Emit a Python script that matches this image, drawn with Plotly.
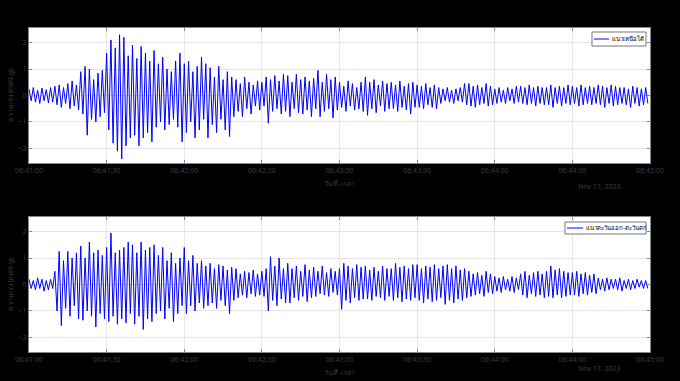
import plotly.graph_objects as go
import pandas as pd

# ---- data (milli-g) ----
START = "2023-11-17 06:41:00"
END = "2023-11-17 06:45:00"
STEP_S = 10 / 12  # seconds between successive extremes

NS_PEAKS = [
    0.25, 0.3, 0.2, 0.28, 0.22, 0.3,
    0.35, 0.4, 0.3, 0.45, 0.55, 0.4,
    0.9, 1.1, 1.0, 0.6, 0.85, 0.95,
    1.6, 2.1, 1.8, 2.3, 2.2, 1.5,
    1.9, 1.4, 1.85, 1.6, 1.3, 1.7,
    1.2, 1.45, 1.0, 0.9, 1.3, 1.6,
    1.2, 1.3, 0.9, 1.1, 1.45, 1.2,
    1.05, 0.7, 1.1, 0.6, 0.9, 0.7,
    0.6, 0.45, 0.7, 0.5, 0.4, 0.55,
    0.5, 0.7, 0.6, 0.75, 0.55, 0.8,
    0.75, 0.5, 0.8, 0.6, 0.7, 0.55,
    0.65, 0.95, 0.5, 0.8, 0.6, 0.7,
    0.5, 0.35, 0.55, 0.45, 0.3, 0.5,
    0.7, 0.5, 0.6, 0.4, 0.55, 0.45,
    0.5, 0.4, 0.55, 0.35, 0.45, 0.5,
    0.4, 0.35, 0.45, 0.3, 0.4, 0.3,
    0.25, 0.3, 0.2, 0.25, 0.3, 0.45,
    0.45, 0.35, 0.4, 0.3, 0.45, 0.35,
    0.25, 0.3, 0.2, 0.3, 0.25, 0.35,
    0.35, 0.3, 0.4, 0.3, 0.35, 0.3,
    0.3, 0.4, 0.3, 0.35, 0.3, 0.4,
    0.35, 0.3, 0.4, 0.3, 0.35, 0.3,
    0.4, 0.35, 0.3, 0.4, 0.35, 0.3,
    0.3, 0.25, 0.35, 0.3, 0.25, 0.3,
]
NS_TROUGHS = [
    -0.2, -0.25, -0.3, -0.2, -0.28, -0.25,
    -0.35, -0.45, -0.3, -0.5, -0.4, -0.55,
    -0.7, -1.5, -0.9, -1.0, -0.8, -0.65,
    -1.3, -1.8, -2.1, -2.4, -1.9, -1.6,
    -1.5, -1.9, -1.6, -1.4, -1.75, -1.2,
    -1.0, -1.3, -1.1, -0.9, -1.2, -1.75,
    -1.4, -1.0, -1.6, -1.3, -0.9, -1.6,
    -1.1, -1.4, -0.9, -1.3, -1.55, -0.8,
    -0.6, -0.8, -0.5, -0.7, -0.4, -0.55,
    -0.4, -1.05, -0.6, -0.5, -0.7, -0.6,
    -0.8, -0.5, -0.65, -0.7, -0.55, -0.8,
    -0.5, -0.8, -0.6, -0.5, -0.85, -0.55,
    -0.45, -0.6, -0.4, -0.55, -0.5, -0.6,
    -0.75, -0.5, -0.65, -0.4, -0.6, -0.5,
    -0.5, -0.6, -0.45, -0.55, -0.7, -0.45,
    -0.45, -0.5, -0.35, -0.45, -0.5, -0.3,
    -0.2, -0.25, -0.3, -0.2, -0.25, -0.35,
    -0.4, -0.45, -0.35, -0.3, -0.4, -0.35,
    -0.3, -0.25, -0.3, -0.2, -0.3, -0.25,
    -0.3, -0.35, -0.3, -0.4, -0.3, -0.35,
    -0.35, -0.45, -0.3, -0.4, -0.3, -0.35,
    -0.3, -0.4, -0.35, -0.3, -0.35, -0.3,
    -0.35, -0.45, -0.3, -0.4, -0.35, -0.3,
    -0.35, -0.45, -0.3, -0.4, -0.35, -0.3,
]
EW_PEAKS = [
    0.2, 0.15, 0.25, 0.2, 0.15, 0.2,
    0.5, 1.25, 0.9, 1.25, 1.0, 1.2,
    1.45, 1.0, 1.6, 1.2, 1.3, 1.1,
    1.4, 1.95, 1.2, 1.3, 1.4, 1.6,
    1.5, 1.2, 1.6, 1.3, 1.4, 1.5,
    1.1, 1.4, 0.9, 1.2, 0.8, 1.0,
    1.4, 0.9, 1.1, 0.8, 0.9, 0.7,
    0.8, 0.6, 0.75, 0.7, 0.55, 0.65,
    0.6, 0.4, 0.5, 0.45, 0.55, 0.4,
    0.5, 0.6, 1.05, 0.7, 1.0, 0.6,
    0.8, 0.6, 0.7, 0.5, 0.75, 0.55,
    0.65, 0.5, 0.7, 0.45, 0.6, 0.5,
    0.6, 0.8, 0.7, 0.6, 0.75, 0.65,
    0.7, 0.55, 0.65, 0.5, 0.7, 0.6,
    0.6, 0.8, 0.65, 0.7, 0.6, 0.75,
    0.75, 0.6, 0.7, 0.65, 0.75, 0.6,
    0.7, 0.75, 0.6, 0.7, 0.55, 0.6,
    0.5, 0.4, 0.45, 0.35, 0.5, 0.4,
    0.3, 0.25, 0.3, 0.2, 0.3, 0.25,
    0.4, 0.5, 0.35, 0.45, 0.5, 0.4,
    0.5, 0.7, 0.55, 0.6, 0.5, 0.45,
    0.45, 0.5, 0.4, 0.45, 0.35, 0.4,
    0.25, 0.2, 0.25, 0.2, 0.2, 0.25,
    0.15, 0.2, 0.15, 0.2, 0.15, 0.15,
]
EW_TROUGHS = [
    -0.15, -0.2, -0.15, -0.25, -0.2, -0.15,
    -1.0, -1.55, -0.9, -1.2, -0.8, -1.3,
    -1.35, -1.0, -1.2, -1.6, -1.1, -1.3,
    -1.4, -1.2, -1.5, -1.3, -1.45, -1.1,
    -1.5, -1.2, -1.7, -1.3, -1.4, -1.1,
    -1.0, -1.3, -0.9, -1.4, -1.1, -0.8,
    -1.1, -0.8, -1.0, -0.7, -0.9, -0.8,
    -0.7, -0.9, -0.6, -0.8, -1.1, -0.6,
    -0.5, -0.4, -0.5, -0.35, -0.45, -0.4,
    -0.45, -1.0, -0.6, -0.8, -0.55, -0.7,
    -0.7, -0.5, -0.6, -0.45, -0.65, -0.5,
    -0.45, -0.35, -0.4, -0.45, -0.3, -0.4,
    -0.94, -0.6, -0.7, -0.5, -0.6, -0.55,
    -0.55, -0.6, -0.45, -0.5, -0.6, -0.45,
    -0.6, -0.5, -0.65, -0.55, -0.6, -0.5,
    -0.6, -0.7, -0.55, -0.65, -0.6, -0.5,
    -0.75, -0.6, -0.7, -0.55, -0.6, -0.5,
    -0.45, -0.4, -0.35, -0.45, -0.3, -0.35,
    -0.25, -0.3, -0.2, -0.25, -0.3, -0.2,
    -0.4, -0.5, -0.35, -0.45, -0.4, -0.5,
    -0.45, -0.5, -0.4, -0.5, -0.45, -0.4,
    -0.4, -0.45, -0.35, -0.4, -0.3, -0.35,
    -0.2, -0.25, -0.2, -0.15, -0.2, -0.25,
    -0.15, -0.2, -0.15, -0.1, -0.15, -0.15,
]
Y_TICKS = [-2, -1, 0, 1, 2]
NS_NAME = "แนวเหนือใต้"
EW_NAME = "แนวตะวันออก-ตะวันตก"
Y_TITLE = "ความเร่ง (milli-g)"
X_TITLE = "วันที่-เวลา"
DATE_LABEL = "Nov 17, 2023"


def interleave(peaks, troughs):
    out = []
    for p, t in zip(peaks, troughs):
        out.extend([p, t])
    return out


ns = interleave(NS_PEAKS, NS_TROUGHS)
ew = interleave(EW_PEAKS, EW_TROUGHS)
t0 = pd.Timestamp(START)
times = [t0 + pd.Timedelta(seconds=i * STEP_S) for i in range(len(ns))]

W, H = 680, 381
FONT = "Noto Sans, DejaVu Sans, sans-serif"
TXT = "#3c3c3c"
GRID = "#e6e6e6"
BLUE = "#0000ff"

fig = go.Figure()
fig.add_trace(go.Scatter(x=times, y=ns, mode="lines", name=NS_NAME,
                         line=dict(color=BLUE, width=1),
                         xaxis="x", yaxis="y", showlegend=False))
fig.add_trace(go.Scatter(x=times, y=ew, mode="lines", name=EW_NAME,
                         line=dict(color=BLUE, width=1),
                         xaxis="x2", yaxis="y2", showlegend=False))

xd = [29 / W, 650 / W]
top_dom = [1 - 163 / H, 1 - 28 / H]
bot_dom = [1 - 352 / H, 1 - 217 / H]

xcommon = dict(type="date", range=[START, END], dtick=30000, tick0=START,
               tickformat="%H:%M:%S", showgrid=True, gridcolor=GRID,
               ticks="inside", ticklen=3, tickcolor="#888", mirror="ticks",
               showline=True, linecolor="#888", linewidth=1, automargin=False,
               ticklabelstandoff=1,
               tickfont=dict(size=7, color=TXT, family=FONT), zeroline=False,
               domain=xd)
ycommon = dict(range=[-2.55, 2.55], tickvals=Y_TICKS, showgrid=True,
               gridcolor=GRID, ticks="inside", ticklen=3, tickcolor="#888",
               mirror="ticks", showline=True, linecolor="#888", linewidth=1,
               automargin=False,
               tickfont=dict(size=7, color=TXT, family=FONT), zeroline=False,
               title=dict(text=Y_TITLE, font=dict(size=7, color=TXT, family=FONT),
                          standoff=4))


def px(x):
    return x / W


def py(y):
    return 1 - y / H


shapes = []
annotations = []
for (x0, x1, y0, y1, lx1, name) in [
    (592, 646, 32, 46, 609, NS_NAME),
    (565, 646, 222, 234, 583, EW_NAME),
]:
    shapes.append(dict(type="rect", xref="paper", yref="paper",
                       x0=px(x0), x1=px(x1), y0=py(y1), y1=py(y0),
                       fillcolor="white", line=dict(color="#777", width=1),
                       layer="above"))
    ym = (y0 + y1) / 2
    shapes.append(dict(type="line", xref="paper", yref="paper",
                       x0=px(x0 + 2), x1=px(lx1), y0=py(ym), y1=py(ym),
                       line=dict(color=BLUE, width=1), layer="above"))
    annotations.append(dict(text=name, xref="paper", yref="paper",
                            x=px(lx1 + 1), y=py(ym), xanchor="left", yanchor="middle",
                            showarrow=False,
                            font=dict(size=6, color="black", family=FONT)))

for y in (186, 375):
    annotations.append(dict(text=DATE_LABEL, xref="paper", yref="paper",
                            x=px(623), y=py(y), showarrow=False,
                            font=dict(size=7, color=TXT, family=FONT)))

fig.update_layout(
    width=W, height=H,
    paper_bgcolor="black", plot_bgcolor="white",
    margin=dict(l=0, r=0, t=0, b=0),
    font=dict(family=FONT),
    xaxis=dict(**xcommon, anchor="y",
               title=dict(text=X_TITLE, font=dict(size=7, color=TXT, family=FONT), standoff=6)),
    yaxis=dict(**ycommon, domain=top_dom, anchor="x"),
    xaxis2=dict(**xcommon, anchor="y2",
                title=dict(text=X_TITLE, font=dict(size=7, color=TXT, family=FONT), standoff=6)),
    yaxis2=dict(**ycommon, domain=bot_dom, anchor="x2"),
    showlegend=False,
    shapes=shapes,
    annotations=annotations,
)

fig.write_html(
    "out.html",
    config={"displayModeBar": False},
    post_script="document.body.style.margin='0';document.body.style.background='black';",
)
